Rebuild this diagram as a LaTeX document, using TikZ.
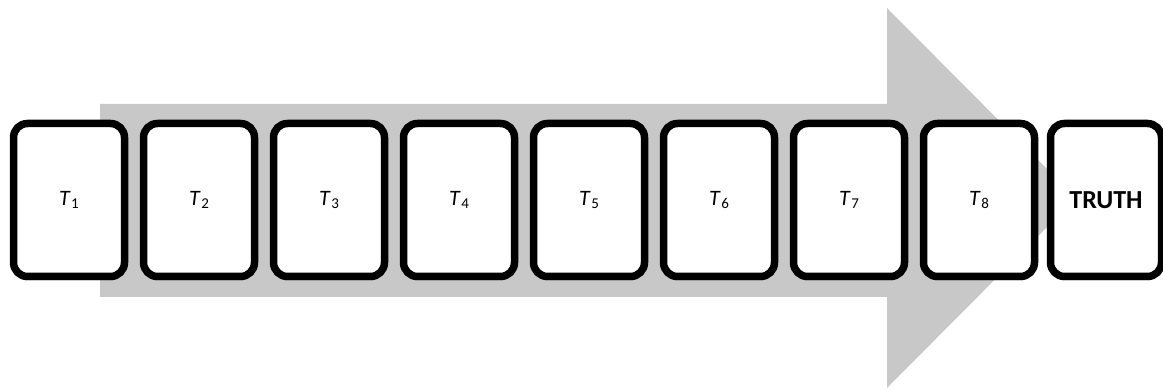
\documentclass[tikz,border=0pt]{standalone}
\usepackage{fontspec}
\setmainfont{Carlito}
\usetikzlibrary{shadows}
\definecolor{arrowgray}{HTML}{C8C8C8}
\begin{document}
\begin{tikzpicture}[x=1pt,y=-1pt,
  card/.style={draw=black,line width=7.5pt,fill=white,rounded corners=14pt,
    minimum width=111pt,minimum height=153pt,inner sep=0pt,
    drop shadow={shadow xshift=0pt,shadow yshift=-4pt,opacity=0.25,fill=black}},
  lab/.style={font=\fontsize{22}{26}\selectfont},
  truthlab/.style={font=\fontsize{26}{30}\selectfont\bfseries}]
\useasboundingbox (0,0) rectangle (1163,390);
\fill[arrowgray] (100,104) -- (887,104) -- (887,8) -- (1076,198) -- (887,388) -- (887,297) -- (100,297) -- cycle;
\foreach \i in {1,...,8}{
  \node[card,lab] (t\i) at ({69+130*(\i-1)},200) {\textit{T}\kern0.5pt\raisebox{-0.35ex}{\fontsize{15}{17}\selectfont\i}};
}
\node[card,truthlab] (truth) at (1106,200) {TRUTH};
\end{tikzpicture}
\end{document}
